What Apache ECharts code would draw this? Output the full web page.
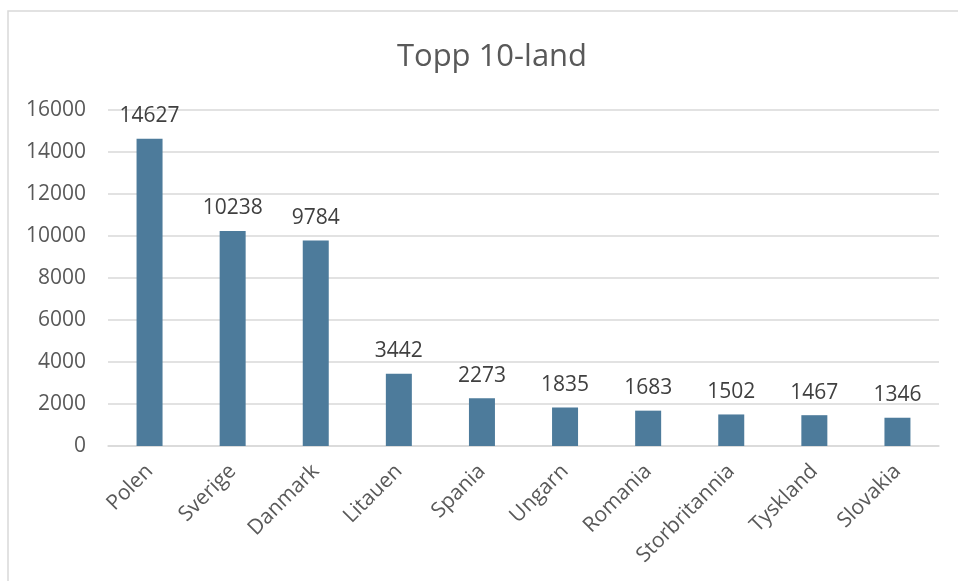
<!DOCTYPE html>
<html>
<head>
<meta charset="utf-8">
<script src="https://cdn.jsdelivr.net/npm/echarts@6/dist/echarts.min.js"></script>
<style>html,body{margin:0;padding:0;background:#fff}#c{width:958px;height:581px}</style>
</head>
<body>
<div id="c"></div>
<script>
const categories = ["Polen","Sverige","Danmark","Litauen","Spania","Ungarn","Romania","Storbritannia","Tyskland","Slovakia"];
const values = [14627,10238,9784,3442,2273,1835,1683,1502,1467,1346];
const titleText = "Topp 10-land";

const chart = echarts.init(document.getElementById('c'), null, {renderer:'canvas'});
const font = '"Open Sans", "Liberation Sans", sans-serif';
chart.setOption({
  animation: false,
  backgroundColor: '#ffffff',
  graphic: [{
    type: 'rect', shape: {x: 8, y: 11, width: 1200, height: 1200},
    style: {fill: 'none', stroke: '#d9d9d9', lineWidth: 1.5}, silent: true, z: -1
  }],
  title: {
    text: titleText, left: 487, top: 37, textAlign: 'center',
    textStyle: {fontFamily: font, fontSize: 31, fontWeight: 'normal', color: '#595959'}
  },
  grid: {left: 108, right: 19, top: 110, bottom: 135, containLabel: false},
  xAxis: {
    type: 'category', data: categories,
    axisLine: {show: true, lineStyle: {color: '#d9d9d9', width: 1.5}},
    axisTick: {show: false},
    axisLabel: {rotate: 45, margin: 22, interval: 0, fontFamily: font, fontSize: 21, color: '#595959'}
  },
  yAxis: {
    type: 'value', min: 0, max: 16000, interval: 2000,
    axisLine: {show: false}, axisTick: {show: false},
    splitLine: {lineStyle: {color: '#d9d9d9', width: 1.5}},
    axisLabel: {margin: 22, fontFamily: font, fontSize: 21, color: '#595959', formatter: v => String(v)}
  },
  series: [{
    type: 'bar', data: values, barWidth: 26,
    itemStyle: {color: '#4d7b9b'},
    label: {show: true, position: 'top', distance: 12, fontFamily: font, fontSize: 21, color: '#404040'}
  }]
});
</script>
</body>
</html>
